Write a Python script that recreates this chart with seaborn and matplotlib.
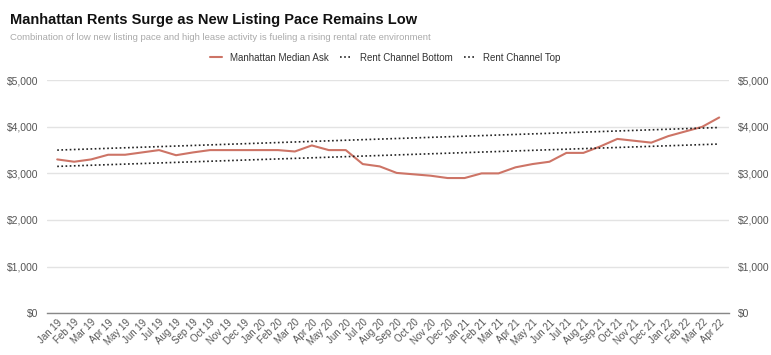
import numpy as np
import pandas as pd
import matplotlib
matplotlib.use("Agg")
import matplotlib.pyplot as plt
import seaborn as sns

months = ["Jan 19", "Feb 19", "Mar 19", "Apr 19", "May 19", "Jun 19", "Jul 19", "Aug 19",
          "Sep 19", "Oct 19", "Nov 19", "Dec 19", "Jan 20", "Feb 20", "Mar 20", "Apr 20",
          "May 20", "Jun 20", "Jul 20", "Aug 20", "Sep 20", "Oct 20", "Nov 20", "Dec 20",
          "Jan 21", "Feb 21", "Mar 21", "Apr 21", "May 21", "Jun 21", "Jul 21", "Aug 21",
          "Sep 21", "Oct 21", "Nov 21", "Dec 21", "Jan 22", "Feb 22", "Mar 22", "Apr 22"]
median_ask = [3300, 3250, 3300, 3400, 3400, 3450, 3500, 3390,
              3450, 3500, 3500, 3500, 3500, 3500, 3470, 3600,
              3500, 3500, 3200, 3150, 3010, 2980, 2950, 2900,
              2900, 3000, 3000, 3130, 3200, 3250, 3440, 3440,
              3580, 3740, 3700, 3660, 3800, 3900, 4000, 4200]
# channel lines run straight from first to last month
channel_months = ["Jan 19", "Apr 22"]
channel_bottom = [3150, 3630]
channel_top = [3500, 3985]

sns.set_theme(style="white")
plt.rcParams['font.family'] = ['Liberation Sans', 'DejaVu Sans']

pos = {m: i for i, m in enumerate(months)}
df = pd.DataFrame({"x": [pos[m] for m in months], "y": median_ask})
cb = pd.DataFrame({"x": [pos[m] for m in channel_months], "y": channel_bottom})
ct = pd.DataFrame({"x": [pos[m] for m in channel_months], "y": channel_top})

fig = plt.figure(figsize=(7.71, 3.55), dpi=100)
ax = fig.add_axes([0.061, 0.118, 0.885, 0.656])

red = "#cd7466"
sns.lineplot(data=df, x="x", y="y", ax=ax, color=red, linewidth=1.5, label="Manhattan Median Ask")
sns.lineplot(data=cb, x="x", y="y", ax=ax, color="#222222", linewidth=1.2, linestyle=(0, (1, 1.5)),
             label="Rent Channel Bottom")
sns.lineplot(data=ct, x="x", y="y", ax=ax, color="#222222", linewidth=1.2, linestyle=(0, (1, 1.5)),
             label="Rent Channel Top")

ax.set_xlim(-0.6, len(months) - 0.4)
ax.set_ylim(0, 5000)
yt = [0, 1000, 2000, 3000, 4000, 5000]
ylabels = ["$" + format(v, ",") for v in yt]
ax.set_yticks(yt)
ax.set_yticklabels(ylabels)
ax.set_xticks(range(len(months)))
ax.set_xticklabels(months, rotation=45, ha="right", rotation_mode="anchor")
ax.tick_params(axis="x", labelsize=7, colors="#555555", length=0, pad=3)
ax.tick_params(axis="y", labelsize=7.5, colors="#555555", length=0, pad=6)
ax.set_xlabel("")
ax.set_ylabel("")
ax.grid(axis="y", color="#e3e3e3", linewidth=1)
for s in ["top", "right", "left"]:
    ax.spines[s].set_visible(False)
ax.spines["bottom"].set_color("#888888")
ax.spines["bottom"].set_linewidth(1)

ax2 = ax.twinx()
ax2.set_ylim(0, 5000)
ax2.set_yticks(yt)
ax2.set_yticklabels(ylabels)
ax2.tick_params(axis="y", labelsize=7.5, colors="#555555", length=0, pad=6)
for s in ax2.spines.values():
    s.set_visible(False)

handles, labels = ax.get_legend_handles_labels()
ax.get_legend().remove()
fig.legend(handles, labels, loc="center", bbox_to_anchor=(0.5, 0.838), ncol=3, frameon=False,
           fontsize=7, handlelength=1.2, columnspacing=1.2, labelcolor="#333333")

fig.text(0.013, 0.932, "Manhattan Rents Surge as New Listing Pace Remains Low",
         fontsize=10.5, fontweight="bold", color="#111111")
fig.text(0.013, 0.888, "Combination of low new listing pace and high lease activity is fueling a rising rental rate environment",
         fontsize=6.8, color="#aaaaaa")

fig.savefig("out.png", dpi=100, facecolor="white")
